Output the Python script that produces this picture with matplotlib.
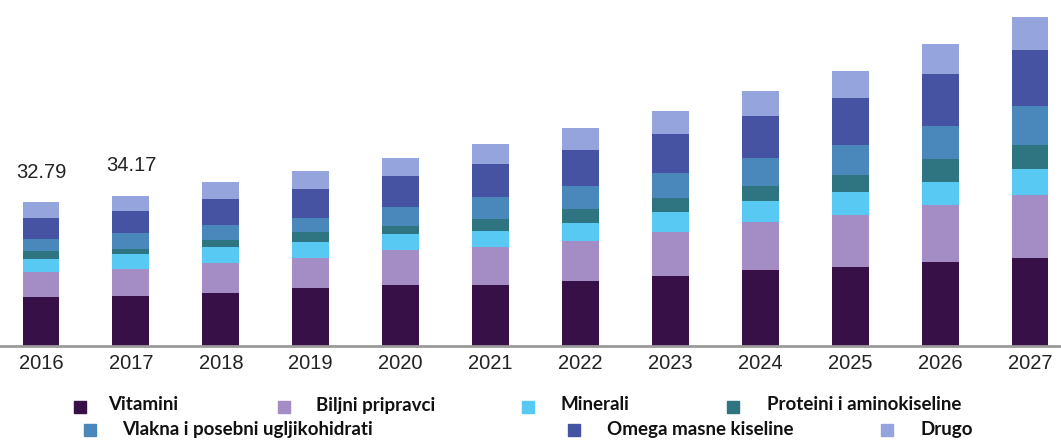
import matplotlib.pyplot as plt
from matplotlib.patches import Rectangle

# podaci (procjena s grafa)
years = ['2016', '2017', '2018', '2019', '2020', '2021', '2022', '2023', '2024', '2025', '2026', '2027']
categories = ['Vitamini', 'Biljni pripravci', 'Minerali', 'Proteini i aminokiseline',
              'Vlakna i posebni ugljikohidrati', 'Omega masne kiseline', 'Drugo']

vitamini = [11.2, 11.4, 12.0, 13.3, 13.9, 13.9, 14.9, 16.0, 17.4, 18.1, 19.2, 20.2]
biljni = [5.7, 6.2, 7.0, 6.9, 8.0, 8.6, 9.1, 10.0, 10.9, 11.8, 13.0, 14.3]
minerali = [3.0, 3.4, 3.7, 3.5, 3.6, 3.8, 4.1, 4.5, 4.9, 5.2, 5.3, 5.8]
proteini = [1.7, 1.2, 1.5, 2.4, 2.0, 2.8, 3.1, 3.2, 3.4, 4.0, 5.3, 5.7]
vlakna = [2.9, 3.5, 3.4, 3.2, 4.3, 4.9, 5.3, 5.9, 6.3, 6.9, 7.5, 8.9]
omega = [4.8, 5.2, 5.9, 6.6, 7.1, 7.6, 8.2, 8.8, 9.7, 10.6, 11.7, 12.7]
drugo = [3.5, 3.3, 3.9, 4.1, 4.0, 4.6, 5.0, 5.3, 5.7, 6.3, 6.9, 7.6]

totals_shown = ['32.79', '34.17']

series = [vitamini, biljni, minerali, proteini, vlakna, omega, drugo]
colors = ['#361046', '#a38dc4', '#58c9f2', '#2e7481', '#4a88bb', '#4653a3', '#95a4dc']

fig = plt.figure(figsize=(10.61, 4.45), dpi=100)
ax = fig.add_axes([0, 0.2225, 1, 0.7775])

x = list(range(len(years)))
bottom = [0.0] * len(years)
for vals, c, name in zip(series, colors, categories):
    ax.bar(x, vals, width=0.41, bottom=bottom, color=c, label=name)
    bottom = [b + v for b, v in zip(bottom, vals)]

for i, t in enumerate(totals_shown):
    ax.annotate(t, (x[i], bottom[i]), xytext=(0, 15), textcoords='offset points',
                ha='center', va='bottom', fontsize=14.5, family='Liberation Sans', color='#222222')

ax.set_xlim(-0.456, 11.345)
ax.set_ylim(0, 79)
for s in ['top', 'right', 'left']:
    ax.spines[s].set_visible(False)
ax.spines['bottom'].set_color('#9a9a9a')
ax.spines['bottom'].set_linewidth(2)
ax.set_yticks([])
ax.set_xticks(x)
ax.set_xticklabels(years, fontsize=14.5, family='Liberation Sans', color='#222222')
ax.tick_params(axis='x', length=0, pad=6)

# legenda rucno (nepravilni razmaci kao na originalu)
leg_pos = [(80, 407), (284, 407), (528, 407), (733, 407), (90, 430), (574, 430), (887, 430)]
leg_txt = [(108, 405), (316, 405), (560, 405), (767, 405), (122, 429), (607, 429), (920, 429)]
W, H = 1061, 445
for (mx, my), (tx, ty), c, name in zip(leg_pos, leg_txt, colors, categories):
    fig.patches.append(Rectangle(((mx - 6) / W, 1 - (my + 6) / H), 12 / W, 12 / H,
                                 transform=fig.transFigure, color=c))
    fig.text(tx / W, 1 - ty / H, name, ha='left', va='center', fontsize=13.5,
             fontweight='bold', family='Lato', color='#111111')

fig.savefig('out.png', dpi=100)
